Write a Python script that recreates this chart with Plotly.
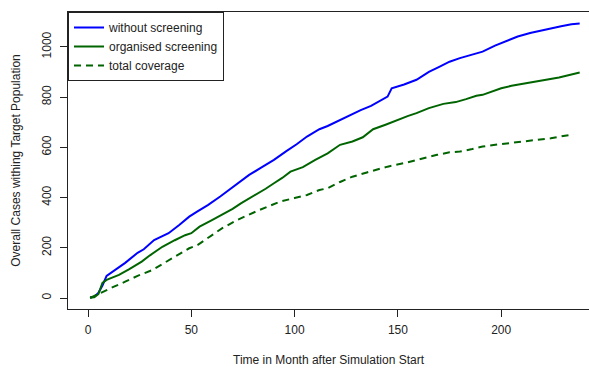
import plotly.graph_objects as go

months_blue = [1, 3, 5, 7, 9, 12, 18, 24, 27, 32, 39, 44, 49, 53, 58, 64, 70, 75, 78, 84,
               90, 96, 101, 106, 112, 116, 122, 128, 132, 137, 142, 145, 147, 153, 159, 165,
               170, 175, 180, 186, 191, 197, 202, 208, 214, 219, 224, 229, 234, 238]
cases_blue = [2, 5, 20, 50, 88, 105, 140, 180, 194, 231, 258, 290, 324, 345, 370, 404, 440, 470, 490, 520,
              550, 585, 612, 643, 672, 685, 709, 735, 748, 765, 790, 802, 835, 850, 869, 900,
              920, 941, 955, 968, 981, 1005, 1022, 1041, 1055, 1065, 1075, 1082, 1090, 1093]

months_green = [1, 3, 5, 7, 9, 12, 15, 20, 26, 30, 36, 42, 47, 50, 54, 60, 66, 70, 74, 80,
                86, 90, 94, 98, 104, 110, 116, 122, 128, 133, 138, 144, 150, 155, 159, 165,
                172, 178, 183, 188, 191, 196, 200, 205, 210, 216, 222, 228, 233, 238]
cases_green = [2, 3, 15, 60, 72, 82, 92, 115, 145, 170, 204, 230, 250, 258, 284, 310, 337, 355, 377, 405,
               435, 457, 478, 503, 521, 550, 576, 610, 623, 640, 672, 690, 710, 725, 736, 756,
               773, 780, 792, 805, 809, 825, 835, 845, 852, 862, 870, 878, 888, 898]

months_total = [1, 4, 7, 12, 18, 24, 31, 37, 44, 49, 53, 59, 65, 72, 78, 82, 88, 93, 100, 106,
                112, 116, 122, 128, 135, 140, 145, 153, 160, 169, 175, 180, 186, 191, 199, 207,
                215, 224, 230, 235]
cases_total = [0, 12, 25, 43, 65, 88, 111, 140, 171, 198, 211, 245, 278, 310, 333, 347, 367, 384, 398, 410,
               430, 437, 462, 483, 500, 512, 523, 537, 552, 570, 580, 583, 593, 603, 612, 619,
               627, 636, 645, 651]

x_ticks = [0, 50, 100, 150, 200]
y_ticks = [0, 200, 400, 600, 800, 1000]

FONT = "Liberation Sans, Arial, sans-serif"

fig = go.Figure()
fig.add_trace(go.Scatter(x=months_blue, y=cases_blue, mode="lines", name="without screening",
                         line=dict(color="#0000FF", width=2)))
fig.add_trace(go.Scatter(x=months_green, y=cases_green, mode="lines", name="organised screening",
                         line=dict(color="#006400", width=2)))
fig.add_trace(go.Scatter(x=months_total, y=cases_total, mode="lines", name="total coverage",
                         line=dict(color="#006400", width=2, dash="7px,5px")))

fig.update_layout(
    width=589, height=368,
    margin=dict(l=68, r=0, t=12, b=59),
    paper_bgcolor="white", plot_bgcolor="white",
    font=dict(family=FONT, size=12, color="#222222"),
    showlegend=True,
    legend=dict(x=0, y=1, xanchor="left", yanchor="top", bgcolor="white",
                bordercolor="#222222", borderwidth=1, font=dict(size=12),
                tracegroupgap=0, itemwidth=30),
)
fig.update_xaxes(
    range=[-9.68, 242.5], tickvals=x_ticks, ticks="outside", ticklen=7, tickcolor="#222222",
    ticklabelstandoff=3,
    showgrid=False, zeroline=False, showline=True, linecolor="#222222", linewidth=1, mirror=True,
    title=dict(text="Time in Month after Simulation Start", standoff=19, font=dict(size=12)),
)
fig.update_yaxes(
    range=[-43.8, 1138.8], tickvals=y_ticks, ticks="outside", ticklen=7, tickcolor="#222222",
    tickangle=-90, ticklabelstandoff=4,
    showgrid=False, zeroline=False, showline=True, linecolor="#222222", linewidth=1, mirror=False,
    title=dict(text="Overall Cases withing Target Population", standoff=17, font=dict(size=12)),
)
fig.write_html("out.html")
